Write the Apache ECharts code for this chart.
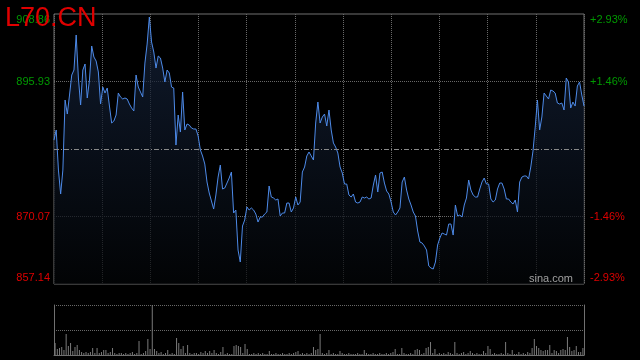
<!DOCTYPE html>
<html><head><meta charset="utf-8">
<script src="https://cdn.jsdelivr.net/npm/echarts@6/dist/echarts.min.js"></script>
<style>html,body{margin:0;padding:0;background:#000}#c{width:640px;height:360px}</style>
</head><body><div id="c"></div>
<script>
const titleText = 'L70.CN';
const sourceText = 'sina.com';
const prevClose = 883.0;
const priceMin = 857.14;
const priceMax = 908.86;
const pctTicks = [-2.93, -1.465, 0, 1.465, 2.93];
const leftLabels = ['857.14', '870.07', '', '895.93', '908.86'];
const rightLabels = ['-2.93%', '-1.46%', '', '+1.46%', '+2.93%'];

const prices = [
884.72,886.64,878.97,874.38,878.97,892.38,889.70,893.34,897.17,898.13,
904.84,896.60,891.43,898.13,899.28,892.77,896.22,902.73,900.62,899.85,
897.75,891.62,894.87,893.72,894.68,891.23,887.98,888.36,889.51,893.72,
892.96,892.58,892.77,892.58,891.62,890.85,890.28,897.17,894.87,893.92,
892.96,899.47,903.11,908.28,903.49,901.58,898.51,900.81,900.43,898.51,
895.83,898.13,897.56,894.87,894.68,883.76,889.51,886.25,893.92,886.64,
887.79,887.59,887.02,886.83,886.83,885.49,882.81,881.66,880.12,876.68,
874.57,873.04,871.50,874.19,877.63,879.93,875.34,875.53,876.48,877.44,
878.59,870.74,871.31,863.65,861.35,868.25,869.40,871.89,871.31,871.70,
871.31,870.55,869.01,869.97,869.97,870.55,870.93,875.91,873.80,873.61,
873.23,873.42,870.16,870.74,870.74,872.65,872.65,870.93,871.70,873.80,
872.27,872.84,878.59,879.55,881.66,882.42,881.66,880.89,887.98,892.00,
887.98,889.13,889.70,887.40,890.47,886.64,884.15,883.38,882.23,879.55,
878.40,876.29,876.29,874.19,873.80,874.38,872.84,872.65,872.84,873.80,
873.61,873.80,873.42,873.61,876.10,878.02,874.76,878.40,878.59,876.48,
874.95,874.38,872.84,870.93,870.35,870.93,871.70,876.68,877.63,875.14,
873.42,872.27,870.93,870.16,867.29,865.18,864.99,864.42,863.65,860.59,
860.20,860.01,861.35,864.61,865.95,866.91,866.71,866.52,868.63,868.63,
866.52,872.27,870.16,870.35,869.97,872.27,873.61,877.06,875.14,874.19,
873.80,873.80,875.34,876.68,877.44,876.29,876.29,873.42,872.84,873.23,
875.34,876.48,876.48,875.34,873.42,873.42,872.84,872.46,873.23,870.93,
876.68,877.63,877.83,877.83,877.25,879.55,882.61,887.21,892.38,886.64,
889.13,893.72,893.15,892.58,894.30,894.11,893.72,891.81,891.62,891.81,
890.47,896.60,895.83,890.85,892.00,891.23,895.07,895.83,893.34,891.23
];

const volumes = [
24,12,14,16,10,42,18,24,8,16,
20,10,6,4,6,4,6,14,4,14,
4,6,10,10,4,6,14,4,2,4,
4,2,4,2,4,6,2,4,28,2,
4,8,32,12,140,12,8,4,6,2,
4,10,2,4,2,34,24,12,18,4,
20,4,2,4,4,2,6,4,8,4,
8,4,10,4,2,6,16,2,4,2,
2,18,20,18,16,4,22,12,2,2,
4,2,4,2,4,2,2,8,2,2,
4,2,2,4,2,2,4,2,4,6,
8,2,4,2,4,2,4,16,10,12,
42,4,2,4,10,2,4,2,2,8,
4,2,2,4,2,2,2,4,2,2,
10,4,2,2,4,2,2,4,2,2,
4,2,4,6,12,2,2,14,4,2,
2,4,2,10,12,10,2,4,14,16,
26,4,12,2,4,2,4,2,6,4,
2,26,4,2,4,6,2,4,8,4,
2,4,2,2,8,4,18,12,2,4,
2,2,4,2,26,4,2,10,2,2,
6,2,4,2,6,4,14,32,18,14,
10,8,10,10,20,4,10,8,4,10,
12,10,36,16,8,10,18,6,6,14
];

const slots = prices.map((_, i) => String(i));

const RED = '#dd0000', GREEN = '#009900';
function tickIndex(v) {
  let best = 0;
  for (let k = 1; k < pctTicks.length; k++) {
    if (Math.abs(pctTicks[k] - v) < Math.abs(pctTicks[best] - v)) best = k;
  }
  return best;
}
const rich = {
  r0: {color: RED, fontSize: 11, fontFamily: 'Liberation Sans, Arial', padding: [0, 0, 12, 0]},
  r1: {color: RED, fontSize: 11, fontFamily: 'Liberation Sans, Arial'},
  r3: {color: GREEN, fontSize: 11, fontFamily: 'Liberation Sans, Arial'},
  r4: {color: GREEN, fontSize: 11, fontFamily: 'Liberation Sans, Arial', padding: [12, 0, 0, 0]}
};
function makeFormatter(labels) {
  return function (v) {
    const k = tickIndex(v);
    if (!labels[k]) return '';
    return '{r' + k + '|' + labels[k] + '}';
  };
}

const GRIDC = '#686868';
const chart = echarts.init(document.getElementById('c'), null, {renderer: 'canvas'});
chart.setOption({
  backgroundColor: '#000',
  animation: false,
  title: {
    text: titleText, left: 5, top: 5, padding: 0, z: 20,
    textStyle: {color: '#e00000', fontSize: 27, fontWeight: 'normal', fontFamily: 'Liberation Sans, Arial'}
  },
  graphic: [{
    type: 'text', right: 67, top: 273, z: 20,
    style: {text: sourceText, fill: '#a0a0a0', font: '11px Liberation Sans, Arial'}
  }],
  grid: [
    {left: 54, right: 56, top: 14, height: 270, show: true, borderColor: '#707070', borderWidth: 1, backgroundColor: 'transparent'},
    {left: 54, right: 56, top: 305, height: 50}
  ],
  xAxis: [
    {type: 'category', gridIndex: 0, data: slots, boundaryGap: false, show: false},
    {type: 'value', gridIndex: 0, min: 0, max: 11, interval: 1,
     axisLine: {show: false}, axisTick: {show: false}, axisLabel: {show: false},
     splitLine: {show: true, lineStyle: {color: GRIDC, type: 'dotted', width: 1}}},
    {type: 'category', gridIndex: 1, data: slots, boundaryGap: true,
     axisLine: {show: true, lineStyle: {color: '#707070'}}, axisTick: {show: false}, axisLabel: {show: false}}
  ],
  yAxis: [
    {type: 'value', gridIndex: 0, position: 'left', min: pctTicks[0], max: pctTicks[4], interval: 1.465,
     axisLine: {show: false}, axisTick: {show: false},
     axisLabel: {formatter: makeFormatter(leftLabels), rich: rich, margin: 4},
     splitLine: {show: true, lineStyle: {type: 'dotted', color: ['transparent', GRIDC, 'transparent', GRIDC, 'transparent']}}},
    {type: 'value', gridIndex: 0, position: 'right', min: pctTicks[0], max: pctTicks[4], interval: 1.465,
     axisLine: {show: false}, axisTick: {show: false},
     axisLabel: {formatter: makeFormatter(rightLabels), rich: rich, margin: 6},
     splitLine: {show: false}},
    {type: 'value', gridIndex: 0, min: priceMin, max: priceMax, show: false, splitLine: {show: false}},
    {type: 'value', gridIndex: 1, position: 'left', min: 0, max: 100, interval: 50,
     axisLine: {show: true, lineStyle: {color: '#707070'}}, axisTick: {show: false}, axisLabel: {show: false},
     splitLine: {show: true, lineStyle: {type: 'dotted', color: GRIDC}}},
    {type: 'value', gridIndex: 1, position: 'right', min: 0, max: 100,
     axisLine: {show: true, lineStyle: {color: '#707070'}}, axisTick: {show: false}, axisLabel: {show: false},
     splitLine: {show: false}}
  ],
  series: [
    {type: 'line', xAxisIndex: 0, yAxisIndex: 2, data: prices, symbol: 'none', smooth: false,
     lineStyle: {color: '#4d8ae8', width: 1},
     areaStyle: {color: new echarts.graphic.LinearGradient(0, 0, 0, 1, [
       {offset: 0, color: '#16253f'}, {offset: 1, color: '#030507'}])},
     markLine: {silent: true, symbol: 'none', label: {show: false},
       lineStyle: {color: '#8a8a8a', type: [5, 2, 1, 2], width: 1},
       data: [{yAxis: prevClose}]}},
    {type: 'bar', xAxisIndex: 2, yAxisIndex: 3, data: volumes, barWidth: 1, clip: true,
     itemStyle: {color: '#7a7a7a'}}
  ]
});
</script></body></html>
